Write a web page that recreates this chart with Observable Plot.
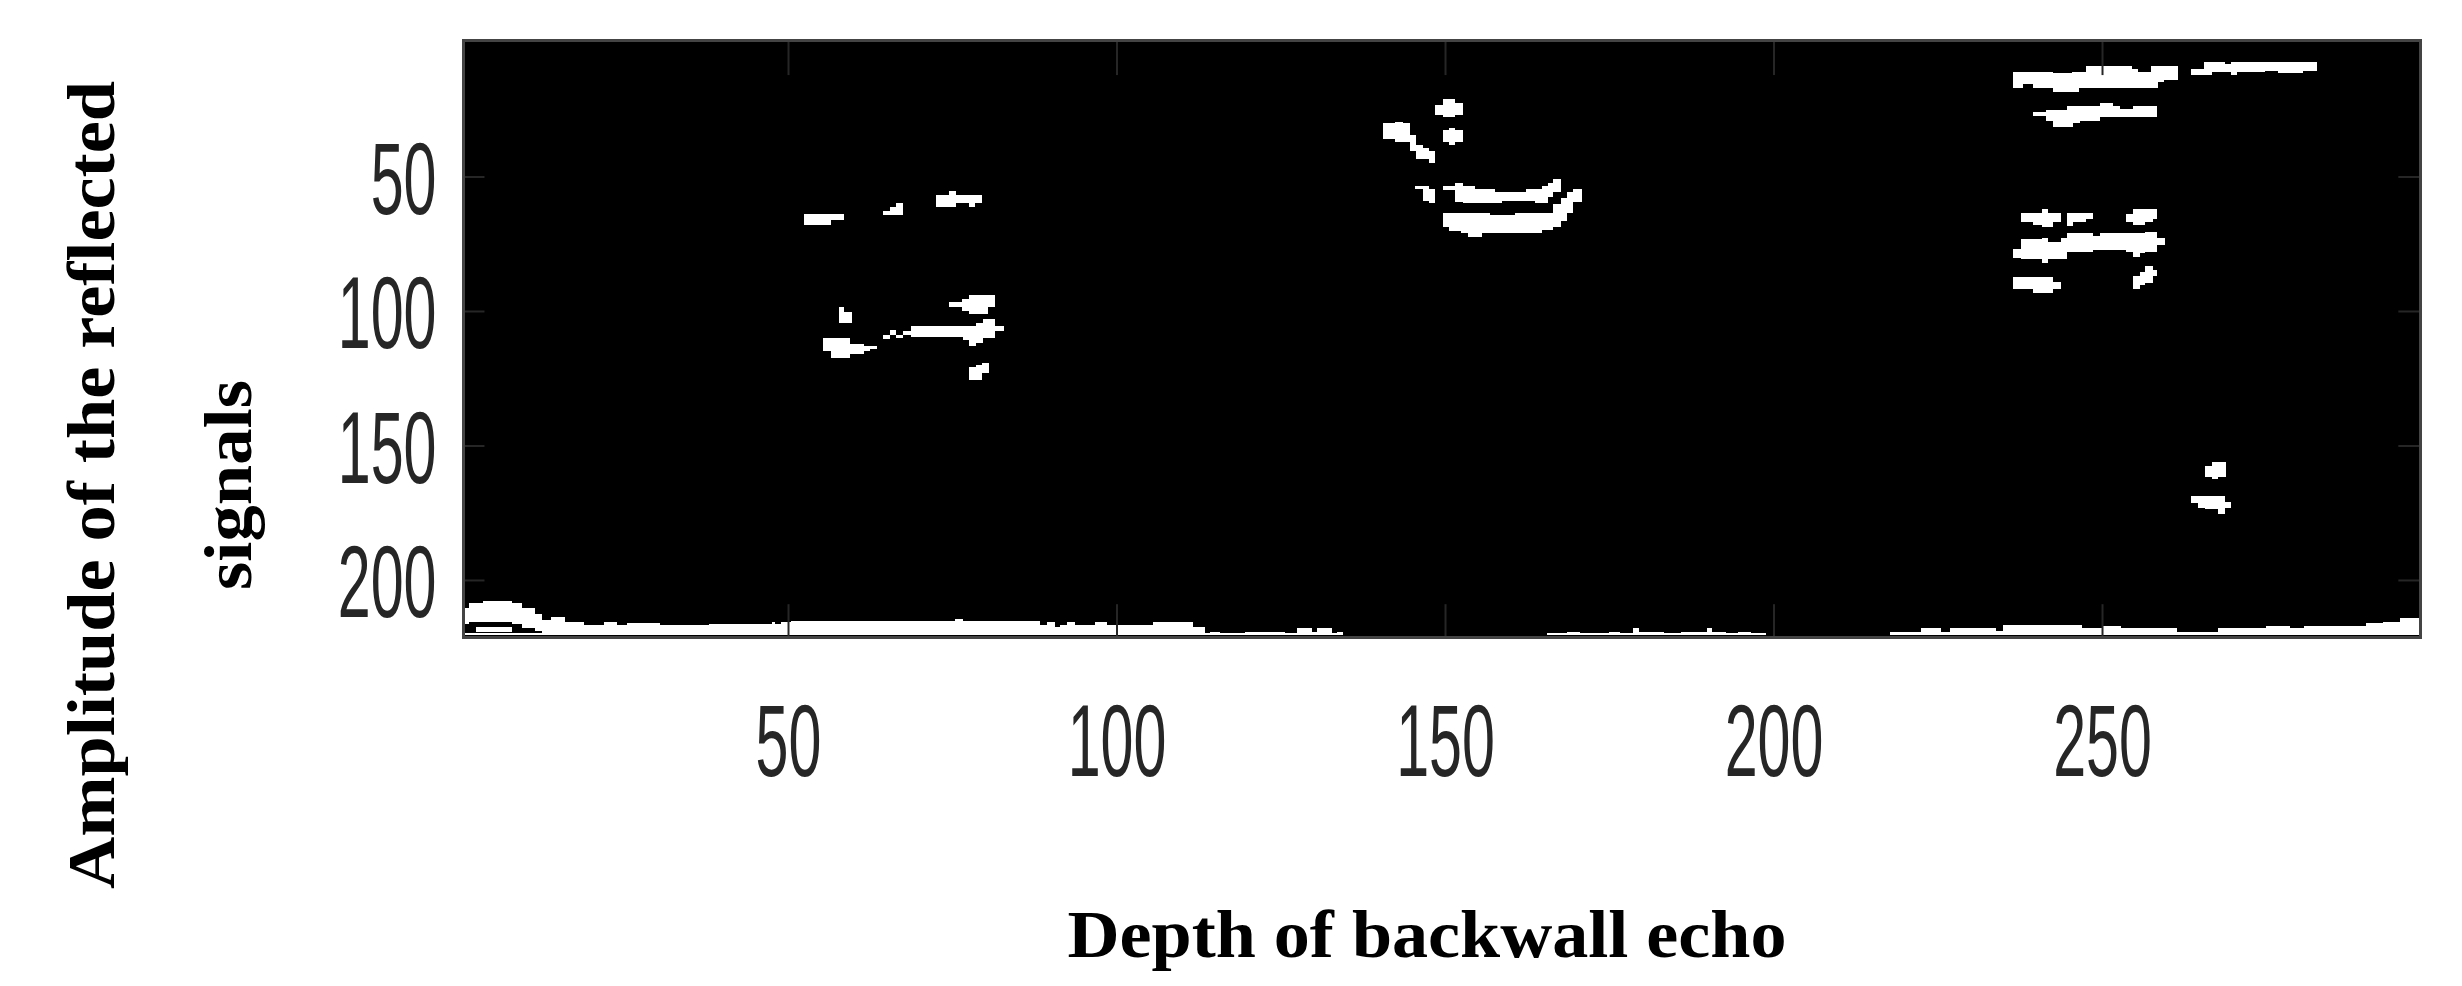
<!DOCTYPE html>
<html>
<head>
<meta charset="utf-8">
<script src="https://cdn.jsdelivr.net/npm/d3@7"></script>
<script src="https://cdn.jsdelivr.net/npm/@observablehq/plot@0.6"></script>
<style>html,body{margin:0;padding:0;background:#fff}svg{display:block}</style>
</head>
<body>
<div id="chart"></div>
<script>
const xTicks = [50, 100, 150, 200, 250];
const yTicks = [50, 100, 150, 200];
const xTitle = "Depth of backwall echo";
const yTitleLines = ["Amplitude of the reflected", "signals"];

// Echo regions read as [depth start, depth end, amplitude start, amplitude end]
const leftUpper = [
  [52.5,56.5,64,68],[56.5,58.5,64,66],
  [64.5,65.5,63,64.5],[65.5,66.5,61.5,64.5],[66.5,67.5,60,64.5],
  [72.5,74.5,57,61.5],[74.5,75.5,55.5,61.5],[75.5,77.5,57,60],[77.5,78.5,57,61.5],[78.5,79.5,57,60]
];
const leftLower = [
  [74.5,76.5,96.5,98.5],[76.5,77.5,95.5,100],[77.5,80.5,94,101],[80.5,81.5,94,98.5],
  [57.8,58.5,98.7,104.5],[58.5,59.7,100.2,104.5],
  [55.3,56.5,110,114.7],[56.5,59.5,110,117.3],[59.5,61.5,112.4,116],[61.5,62.5,113,114.7],[62.5,63.5,113,114],
  [64.5,65.5,109,110.5],[65.5,66.5,107,109],[66.5,67.5,109,110],[67.5,68.7,107.6,109],
  [68.7,76.7,105.4,109.8],[76.7,77.6,105.4,110.7],[77.6,78.6,105.4,113],[78.6,79.7,104.5,112],[79.7,81.5,103,110],[81.5,82.8,105.4,107.6],
  [77.5,78.6,121,125.6],[78.6,79.5,120,125.6],[79.5,80.6,119.4,123]
];
const middleDots = [
  [148.5,149.7,23.4,27],[149.7,151.5,21.3,28],[151.5,152.8,22.8,27],
  [149.7,150.6,32.7,37],[150.6,151.5,31.8,38.3],[151.5,152.8,32.7,37],
  [140.6,142.4,30.2,36.2],[142.4,143.6,29.6,37],[143.6,144.6,30.2,37],[144.6,145.6,34.5,40.4],[145.6,146.6,38.3,43.6],[146.6,147.6,39.3,43.6],[147.6,148.5,40.7,45.1],
  [145.4,146.6,53.5,54.6],[146.6,147.6,53.5,59],[147.6,148.5,54.6,60]
];
const middleArcs = [
  [149.7,151.5,53.5,55.2],[151.5,152.7,52.5,59.3],[152.7,154.5,53.5,60],[154.5,157.6,54.6,60],[157.6,158.6,55.6,60],[158.6,162.4,55.6,59],[162.4,163.7,54.6,59],[163.7,164.7,54.6,60],[164.7,165.7,53.5,60],[165.7,166.5,52.5,57.5],[166.5,167.6,51,55.6],
  [149.7,150.6,63.7,68.9],[150.6,152.5,63.7,70.1],[152.5,153.5,63.7,71.1],[153.5,155.6,63.7,72.6],[155.6,156.8,63.7,71.1],[156.8,160.6,64.5,71.1],[160.6,164.7,63.7,71.1],[164.7,166.5,63.7,69.9],[166.5,167.7,60.2,68.9],[167.7,168.5,58.1,66.4],[168.5,169.5,55.6,63.7],[169.5,170.8,54.7,59.3]
];
const rightTop = [
  [236.5,238,11,17],[238,239.5,11,15.5],[239.5,242.5,11,17],[242.5,245.5,11.5,18.5],[245.5,246.5,11,18.5],[246.5,247.5,11,17],[247.5,254.5,9,17],[254.5,255.5,10,17],[255.5,257.5,11,17],[257.5,258.5,9,17],[258.5,259.5,9,15],[259.5,261.5,9,14],
  [263.5,265.5,10,12.3],[265.5,266.7,7.3,12.3],[266.7,268.7,7.3,11.3],[268.7,269.7,8.2,11.3],[269.7,270.5,7.3,12.3],[270.5,274.8,7.3,11.3],[274.8,276.8,7.3,10.7],[276.8,280.6,7.3,11.7],[280.6,282.7,7.3,10.7],
  [239.5,241.5,26,27.5],[241.5,242.6,25.3,29.4],[242.6,244.7,25.3,31.7],[244.7,245.6,23.7,31.7],[245.6,246.6,23.7,30],[246.6,249.7,23.7,29.4],[249.7,251.7,22.8,28],[251.7,252.7,23.7,28],[252.7,254.7,25,28],[254.7,258.4,23.7,28]
];
const rightMiddle = [
  [237.6,239.5,63.7,66.8],[239.5,240.8,63.7,68],[240.8,241.8,62.2,68.9],[241.8,242.6,63.7,68.9],[242.6,243.8,63.7,66.8],
  [244.7,245.6,63.7,68.4],[245.6,247.6,63.7,66.8],[247.6,248.6,63.7,65.8],
  [253.6,254.7,63.9,66.8],[254.7,256.5,62.2,68],[256.5,257.8,62.2,66.8],[257.8,258.4,62.2,65.9],
  [236.5,237.7,77,80.4],[237.7,240.8,73.3,80.8],[240.8,241.8,72.7,82.3],[241.8,243.8,74.2,80.8],[243.8,244.7,73,80.8],[244.7,248.6,71.1,77.9],[248.6,249.7,72.3,77.3],[249.7,253.6,71.1,77.3],[253.6,254.7,71.1,77.9],[254.7,255.8,71.1,80],[255.8,256.5,71.1,78.5],[256.5,258.4,70.5,77.9],[258.4,259.6,72.7,75.4],
  [236.5,239.5,87.2,91.9],[239.5,242.6,87.2,93.4],[242.6,243.8,89.1,91.9],
  [254.7,255.8,87,91.9],[255.8,256.6,85.4,90.3],[256.6,257.8,83.3,89.7],[257.8,258.4,84.7,87]
];
const rightLower = [
  [265.6,266.7,157.7,161.6],[266.7,267.7,156,162.6],[267.7,268.8,156,161.6],
  [263.6,264.6,168.7,171.5],[264.6,265.6,168.7,173.2],[265.6,267.7,168.7,173.8],[267.7,268.7,168.7,175.3],[268.7,269.7,170.9,173.2]
];
const backwallLeft = [
  [0.5,1.5,210.5,216.5],[1.5,3.5,208.7,215.5],[3.5,8,207.8,215.5],[8,9.5,208.7,216.5],[9.5,11.5,210.5,218],[11.5,12.5,212.5,219],[12.5,14,214.8,220.3],[14,16,213.6,220.3],
  [2.5,8,217.3,219.5],[0.5,13,219.7,220.3]
];
const backwallA = [
  [16,19,215.5,220.3],[19,22,216.7,220.3],[22,24,215.5,220.3],[24,25.5,216.7,220.3],[25.5,30.5,216,220.3],[30.5,38,216.9,220.3],[38,47.5,216.3,220.3],[47.5,48,215.5,220.3],[48,49,216.3,220.3],[49,50.5,215.5,220.3],[50.5,67,215.2,220.3],
  [67,75.4,215.1,220.3],[75.4,76.7,214.6,220.3],[76.7,88.4,215.1,220.3],[88.4,89.4,216.7,220.3],[89.4,90.6,215.5,220.3],[90.6,91.4,217.6,220.3],[91.4,92.4,216.7,220.3],[92.4,93.7,215.5,220.3],[93.7,96.7,216.7,220.3],[96.7,98.5,215.5,220.3],[98.5,105.6,216.7,220.3],[105.6,111.7,215.5,220.3],[111.7,113.5,217.6,220.3],[113.5,114.2,219.7,220.3],[114.2,115.8,219.2,220.3],[115.8,119.6,219.7,220.3],[119.6,125.6,219.2,220.3],[125.6,127.4,219.7,220.3],[127.4,129.7,218,220.3],[129.7,130.5,219.2,220.3],[130.5,132.8,218,220.3],[132.8,133.5,219.7,220.3],[133.5,134.5,219.2,220.3]
];
const backwallB = [
  [165.5,168.6,219.7,220.3],[168.6,170.6,219.2,220.3],[170.6,174.9,219.7,220.3],[174.9,176.7,219.2,220.3],[176.7,178.6,219.7,220.3],[178.6,179.6,217.7,220.3],[179.6,183.4,219.2,220.3],[183.4,185.9,219.7,220.3],[185.9,189.8,219.2,220.3],[189.8,190.7,217.7,220.3],[190.7,192.7,219.2,220.3],[192.7,194.6,219.7,220.3],[194.6,196.6,219.2,220.3],[196.6,198.8,219.7,220.3]
];
const backwallC = [
  [217.7,219.9,219.3,220.3],[219.9,222.5,219.2,220.3],[222.5,225.5,217.7,220.3],[225.5,226.8,219.2,220.3],[226.8,233.9,217.7,220.3],[233.9,234.9,218.8,220.3],[234.9,247,216.7,220.3],[247,250,217.7,220.3],[250,252.9,217,220.3],[252.9,258.2,217.7,220.3],[258.2,261.4,218,220.3],[261.4,267.6,219.2,220.3],[267.6,275,217.7,220.3],[275,278.6,217,220.3],[278.6,280.8,217.7,220.3],[280.8,290.2,217,220.3],[290.2,292.7,216.1,220.3],[292.7,295.4,215.5,220.3],[295.4,298.5,214.3,220.3]
];

const regions = [leftUpper, leftLower, middleDots, middleArcs, rightTop, rightMiddle, rightLower, backwallLeft, backwallA, backwallB, backwallC].flat();

const tickColor = "#262626";
const titleStyle = {text: d => d, fontSize: 68, fontWeight: "bold", fontFamily: "Liberation Serif", fill: "#000", textAnchor: "middle"};
const plot = Plot.plot({
  width: 2462,
  height: 986,
  marginLeft: 463,
  marginRight: 42,
  marginTop: 40,
  marginBottom: 349,
  style: {background: "#fff", overflow: "visible"},
  x: {domain: [0.53, 298.4], axis: null},
  y: {domain: [221.2, -0.74], axis: null},
  marks: [
    Plot.frame({fill: "#000", stroke: null}),
    Plot.rect(regions, {
      x1: d => d[0], x2: d => d[1], y1: d => d[2], y2: d => d[3],
      fill: "#fff", shapeRendering: "crispEdges"
    }),
    Plot.ruleX(xTicks, {x: d => d, y1: -0.74, y2: 12.3, stroke: tickColor, strokeWidth: 2}),
    Plot.ruleX(xTicks, {x: d => d, y1: 209, y2: 221.2, stroke: tickColor, strokeWidth: 2}),
    Plot.ruleY(yTicks, {y: d => d, x1: 0.53, x2: 3.8, stroke: tickColor, strokeWidth: 2}),
    Plot.ruleY(yTicks, {y: d => d, x1: 295.1, x2: 298.4, stroke: tickColor, strokeWidth: 2}),
    Plot.frame({stroke: "#444", strokeWidth: 3}),
    Plot.axisX(xTicks, {anchor: "bottom", tickSize: 0, tickPadding: 66, fontSize: 102, fill: tickColor, label: null, fontFamily: "Liberation Sans"}),
    Plot.axisY(yTicks, {anchor: "left", tickSize: 0, tickPadding: 27, dy: 4, fontSize: 102, fill: tickColor, label: null, fontFamily: "Liberation Sans"}),
    Plot.text([xTitle], {...titleStyle, frameAnchor: "bottom", lineAnchor: "bottom", dx: -15, dy: 319}),
    Plot.text([yTitleLines[0]], {...titleStyle, frameAnchor: "left", lineAnchor: "bottom", rotate: -90, dx: -350, dy: 146}),
    Plot.text([yTitleLines[1]], {...titleStyle, frameAnchor: "left", lineAnchor: "bottom", rotate: -90, dx: -213, dy: 146})
  ]
});

const svg = d3.select(plot);
// The reference's tick labels are horizontally squeezed, so narrow each glyph run.
svg.selectAll('g[aria-label="x-axis tick label"] text, g[aria-label="y-axis tick label"] text').each(function () {
  const t = this.getAttribute("transform") || "";
  this.setAttribute("transform", t + " scale(0.58,1)");
});
const lengths = new Map([[xTitle, 719], [yTitleLines[0], 808], [yTitleLines[1], 210]]);
svg.selectAll("text").each(function () {
  const len = lengths.get(this.textContent);
  if (len) { this.setAttribute("textLength", len); this.setAttribute("lengthAdjust", "spacingAndGlyphs"); }
});

document.getElementById("chart").appendChild(plot);
</script>
</body>
</html>
